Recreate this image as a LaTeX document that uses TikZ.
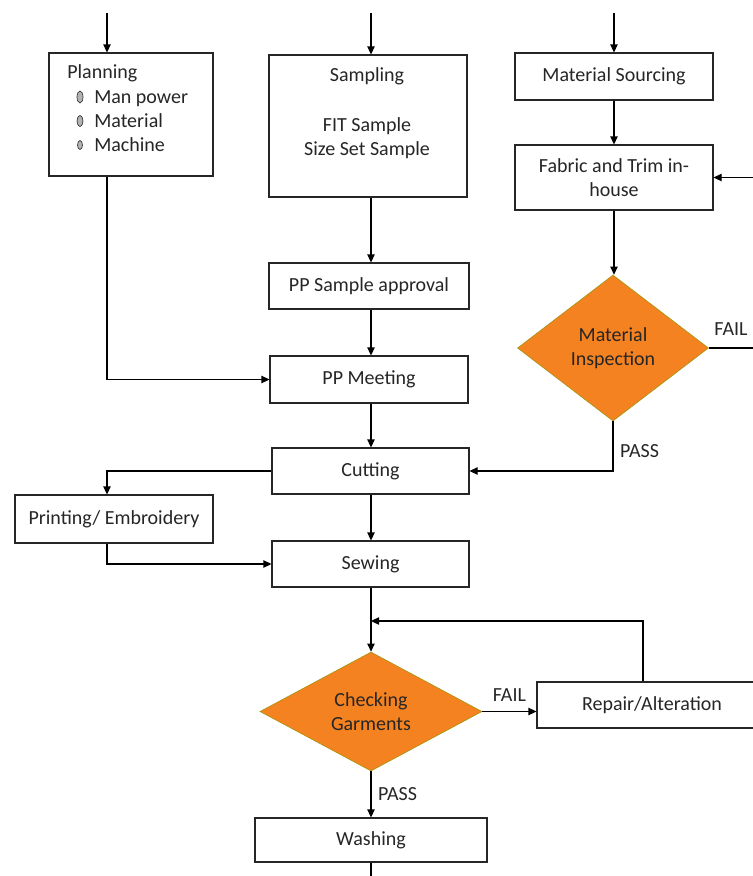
\documentclass[tikz,border=0pt]{standalone}
\usepackage{fontspec}
\setmainfont{Carlito}
\usepackage{xcolor}
\usetikzlibrary{arrows.meta,shapes.geometric}
\definecolor{inkc}{HTML}{262626}
\definecolor{orng}{HTML}{F58220}
\definecolor{olive}{HTML}{A89410}

\begin{document}
\begin{tikzpicture}[
  x=0.75pt, y=-0.75pt,
  every node/.style={font=\fontsize{15}{18}\selectfont, text=inkc},
  box/.style={draw=black!85, line width=0.8pt, fill=white, align=center,
              minimum width=148.5pt, minimum height=34.5pt, inner sep=0pt},
  dec/.style={diamond, draw=olive, line width=0.5pt, fill=orng, align=center,
              inner sep=0pt},
  bul/.style={ellipse, draw=black!80, fill=gray!60, line width=0.5pt, inner sep=0pt},
  arr/.style={-{Triangle[length=6pt,width=5.5pt]}, line width=0.8pt},
  ln/.style={line width=0.8pt},
  lbl/.style={inner sep=2pt},
]
  \useasboundingbox (0,0) rectangle (753,876);
  \clip (0,0) rectangle (753,876);
  %% incoming lines at the top
  \coordinate (inP) at (107,13);
  \coordinate (inS) at (371,13);
  \coordinate (inM) at (614,13);
  \coordinate (out) at (371,876);
  %% left column: planning
  \node[box, minimum width=123pt, minimum height=92.25pt] (plan) at (131,114.5) {};
  \node[anchor=base west, inner sep=0pt] (planT) at (67,78) {Planning};
  \foreach \yy/\lab/\bw/\bh [count=\i] in
      {103/Man power/4.5/9, 127/Material/4.5/8.25, 151/Machine/3.75/6.75}{
    \node[bul, minimum width=\bw pt, minimum height=\bh pt] (b\i) at (80,\yy-6) {};
    \node[anchor=base west, inner sep=0pt] (it\i) at (94,\yy) {\lab};
  }
  %% middle column
  \node[box, minimum height=106.5pt] (samp) at (368,126) {};
  \node[align=center] (sampT) at (367,113) {Sampling\\[20pt]FIT Sample\\Size Set Sample};
  \node[box, minimum width=150pt] (ppsa) at (369,286) {PP Sample approval};
  \node[box, minimum height=35.25pt] (ppm) at (369,379.5) {PP Meeting};
  \node[box, minimum width=147.75pt] (cut) at (370.5,471) {Cutting};
  \node[box, minimum height=36pt] (print) at (114,519) {Printing/ Embroidery};
  \node[box, minimum width=147.75pt] (sew) at (370.5,564) {Sewing};
  \node[dec, minimum width=166.5pt, minimum height=89.25pt] (chk) at (371,711.5)
    {Checking\\Garments};
  \node[box, minimum width=172.5pt] (rep) at (652,705) {Repair/Alteration};
  \node[box, minimum width=174pt, minimum height=33pt] (wash) at (371,840) {Washing};
  %% right column: material
  \node[box, minimum height=35.25pt] (msrc) at (614,76.5) {Material Sourcing};
  \node[box, minimum height=48.75pt] (fab) at (614,177.5) {Fabric and Trim in-\\house};
  \node[dec, minimum width=143.25pt, minimum height=109.5pt] (minsp) at (613,348)
    {Material\\Inspection};
  \coordinate (join) at (371,621);
  %% connectors
  \draw[arr] (inP) -- (inP |- plan.north);
  \draw[arr] (inS) -- (inS |- samp.north);
  \draw[arr] (inM) -- (msrc.north);
  \draw[arr] (msrc) -- (fab);
  \draw[arr] (fab.south) -- (fab.south |- minsp.north);
  \draw[arr] (minsp.east) -- node[lbl, pos=0.37, above=7pt]{FAIL} ++(60,0) |- (fab.east);
  \draw[arr] (minsp.south) |- node[lbl, pos=0.3, right=3pt]{PASS} (cut.east);
  \draw[arr] (samp.south -| inS) -- (ppsa.north -| inS);
  \draw[arr] (ppsa.south -| inS) -- (ppm.north -| inS);
  \draw[arr] (plan.south -| inP) |- (ppm.west);
  \draw[arr] (ppm.south -| inS) -- (cut.north -| inS);
  \draw[arr] (cut.west) -| (print.north -| inP);
  \draw[arr] (print.south -| inP) |- (sew.west);
  \draw[arr] (cut.south -| inS) -- (sew.north -| inS);
  \draw[arr] (sew.south -| inS) -- (chk.north);
  \draw[arr] ([xshift=-6.75pt]rep.north) |- (join);
  \draw[arr] (chk.east) -- node[lbl, above=5pt]{FAIL} (chk.east -| rep.west);
  \draw[arr] (chk.south) -- node[lbl, right=3pt]{PASS} (wash.north);
  \draw[ln] (wash.south) -- (out);
\end{tikzpicture}
\end{document}
